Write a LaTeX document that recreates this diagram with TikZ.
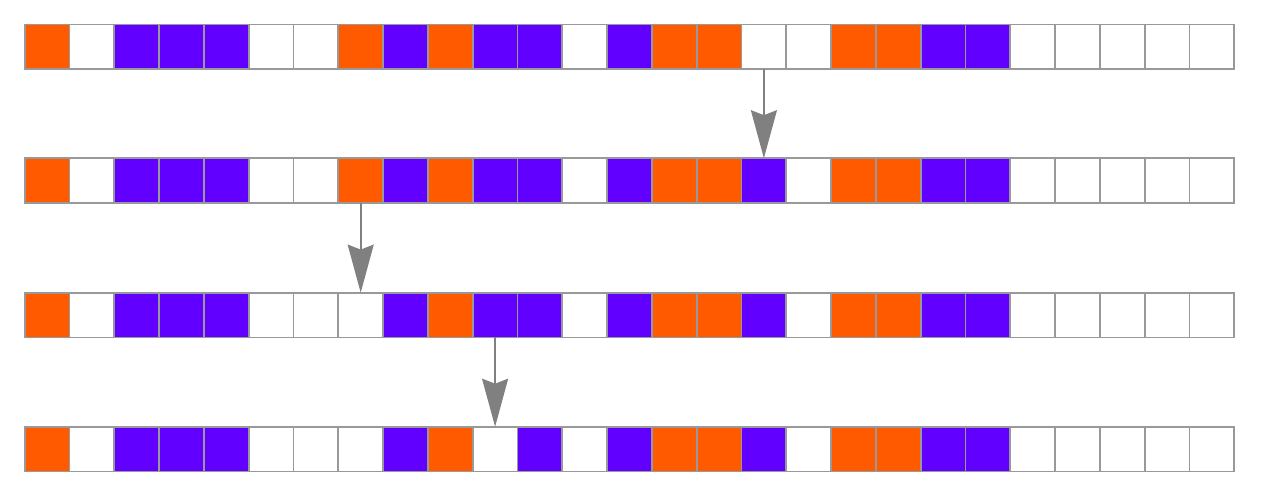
\documentclass[tikz,border=0pt]{standalone}
\usetikzlibrary{arrows.meta}
\definecolor{cO}{HTML}{FF5A00}
\definecolor{cP}{HTML}{6100FF}
\definecolor{cW}{HTML}{FFFFFF}
\definecolor{edgegray}{HTML}{999999}
\definecolor{arrgray}{HTML}{808080}
\begin{document}
\begin{tikzpicture}[x=1pt,y=-1pt,
  cell/.style={draw=edgegray, line width=1.8pt, minimum size=44.8pt, inner sep=0pt, outer sep=0pt, anchor=north west},
  move/.style={draw=arrgray, line width=1.8pt, -{Stealth[length=48pt,width=26pt,inset=5pt,fill=arrgray]}}]
\useasboundingbox (0,0) rectangle (1263,499);
\foreach \c [count=\i from 0] in {O,W,P,P,P,W,W,O,P,O,P,P,W,P,O,O,W,W,O,O,P,P,W,W,W,W,W}
  \node[cell, fill=c\c] (r1c\i) at ({24.7+44.8*\i},24.5) {};
\foreach \c [count=\i from 0] in {O,W,P,P,P,W,W,O,P,O,P,P,W,P,O,O,P,W,O,O,P,P,W,W,W,W,W}
  \node[cell, fill=c\c] (r2c\i) at ({24.7+44.8*\i},158.2) {};
\foreach \c [count=\i from 0] in {O,W,P,P,P,W,W,W,P,O,P,P,W,P,O,O,P,W,O,O,P,P,W,W,W,W,W}
  \node[cell, fill=c\c] (r3c\i) at ({24.7+44.8*\i},292.6) {};
\foreach \c [count=\i from 0] in {O,W,P,P,P,W,W,W,P,O,W,P,W,P,O,O,P,W,O,O,P,P,W,W,W,W,W}
  \node[cell, fill=c\c] (r4c\i) at ({24.7+44.8*\i},426.7) {};
\draw[move] (r1c16.south) -- (r2c16.north);
\draw[move] (r2c7.south) -- (r3c7.north);
\draw[move] (r3c10.south) -- (r4c10.north);
\end{tikzpicture}
\end{document}
